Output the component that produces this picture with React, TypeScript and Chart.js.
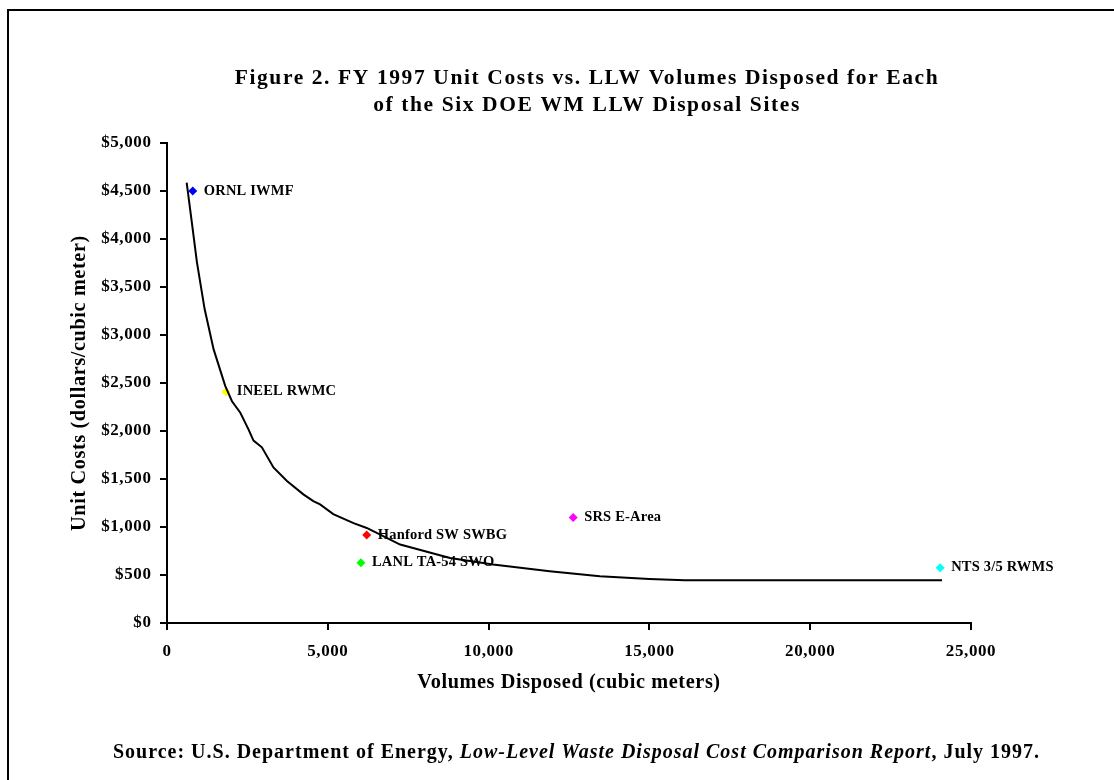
import React, { useEffect, useRef } from 'react';
import { Chart, registerables } from 'chart.js';

Chart.register(...registerables);

const SERIF = '"Liberation Serif", "Times New Roman", Times, serif';

const titleLines = [
  'Figure 2. FY 1997 Unit Costs vs. LLW Volumes Disposed for Each',
  'of the Six DOE WM LLW Disposal Sites',
];
const xAxisTitle = 'Volumes Disposed (cubic meters)';
const yAxisTitle = 'Unit Costs (dollars/cubic meter)';
const sourceParts = [
  { text: 'Source: U.S. Department of Energy, ', italic: false },
  { text: 'Low-Level Waste Disposal Cost Comparison Report', italic: true },
  { text: ', July 1997.', italic: false },
];

const siteNames = ['ORNL IWMF', 'INEEL RWMC', 'Hanford SW SWBG', 'LANL TA-54 SWO', 'SRS E-Area', 'NTS 3/5 RWMS'];
const siteVolumes = [800, 1830, 6210, 6030, 12630, 24040];
const siteCosts = [4500, 2410, 917, 628, 1100, 576];
const siteColors = ['#0000FF', '#FFFF00', '#FF0000', '#00FF00', '#FF00FF', '#00FFFF'];

const curveVolumes = [612, 800, 930, 1170, 1450, 1810, 2020, 2280, 2530, 2690, 2950, 3310, 3730, 4240, 4550, 4760, 5170, 5800, 6210, 7250, 8800, 10140, 11900, 13460, 15000, 16100, 24100];
const curveCosts = [4586, 4100, 3760, 3270, 2850, 2470, 2310, 2190, 2020, 1900, 1830, 1620, 1480, 1340, 1270, 1235, 1135, 1040, 990, 817, 678, 609, 539, 486, 459, 445, 445];

const xTickValues = [0, 5000, 10000, 15000, 20000, 25000];
const yTickValues = [0, 500, 1000, 1500, 2000, 2500, 3000, 3500, 4000, 4500, 5000];

const AXIS_SPACING = '0.6px';

const decorPlugin = {
  id: 'decor',
  beforeDraw(chart: any) {
    chart.ctx.letterSpacing = AXIS_SPACING;
  },
  afterDatasetsDraw(chart: any) {
    const ctx = chart.ctx;
    const meta = chart.getDatasetMeta(1);
    ctx.save();
    ctx.letterSpacing = '0.2px';
    ctx.fillStyle = '#000';
    ctx.font = `bold 14.5px ${SERIF}`;
    ctx.textAlign = 'left';
    ctx.textBaseline = 'middle';
    meta.data.forEach((el: any, i: number) => {
      ctx.fillText(siteNames[i], el.x + 11, el.y);
    });
    ctx.restore();
    ctx.letterSpacing = AXIS_SPACING;
  },
  afterDraw(chart: any) {
    const ctx = chart.ctx;
    ctx.save();
    ctx.fillStyle = '#000';
    ctx.textBaseline = 'middle';
    ctx.textAlign = 'center';
    ctx.letterSpacing = '1.6px';
    ctx.font = `bold 21.5px ${SERIF}`;
    titleLines.forEach((line, i) => ctx.fillText(line, 587, 78.5 + i * 26.7));

    ctx.letterSpacing = '1px';
    ctx.textAlign = 'left';
    const fonts = sourceParts.map((p) => `${p.italic ? 'italic ' : ''}bold 20px ${SERIF}`);
    let total = 0;
    sourceParts.forEach((p, i) => {
      ctx.font = fonts[i];
      total += ctx.measureText(p.text).width;
    });
    let x = 576.5 - total / 2;
    sourceParts.forEach((p, i) => {
      ctx.font = fonts[i];
      ctx.fillText(p.text, x, 753);
      x += ctx.measureText(p.text).width;
    });
    ctx.restore();
    ctx.letterSpacing = '0px';
  },
};

export default function App() {
  const ref = useRef<HTMLCanvasElement | null>(null);

  useEffect(() => {
    if (!ref.current) return;
    const chart = new Chart(ref.current, {
      type: 'scatter',
      data: {
        datasets: [
          {
            label: 'Curve',
            data: curveVolumes.map((v, i) => ({ x: v, y: curveCosts[i] })),
            showLine: true,
            borderColor: '#000',
            borderWidth: 2,
            pointRadius: 0,
            tension: 0,
          },
          {
            label: 'Sites',
            data: siteVolumes.map((v, i) => ({ x: v, y: siteCosts[i] })),
            pointStyle: 'rectRot',
            pointRadius: 4.5,
            backgroundColor: siteColors,
            borderColor: siteColors,
            borderWidth: 0,
          },
        ],
      },
      options: {
        responsive: false,
        animation: false,
        events: [],
        layout: { padding: { left: 0, top: 143, right: 143, bottom: 85 } },
        plugins: {
          legend: { display: false },
          title: { display: false },
          tooltip: { enabled: false },
        },
        scales: {
          x: {
            type: 'linear',
            min: 0,
            max: 25000,
            afterBuildTicks: (s: any) => {
              s.ticks = xTickValues.map((v) => ({ value: v }));
            },
            afterFit: (s: any) => {
              s.height = 72;
            },
            ticks: {
              callback: (v: any) => Number(v).toLocaleString('en-US'),
              font: { family: SERIF, size: 17, weight: 'bold' },
              color: '#000',
              padding: 11.5,
              maxRotation: 0,
              autoSkip: false,
            },
            grid: { drawOnChartArea: false, color: '#000', lineWidth: 2, tickLength: 7 },
            border: { color: '#000', width: 2 },
            title: {
              display: true,
              text: xAxisTitle,
              color: '#000',
              font: { family: SERIF, size: 20.3, weight: 'bold' },
              padding: { top: 0, bottom: 0 },
            },
          },
          y: {
            type: 'linear',
            min: 0,
            max: 5000,
            afterBuildTicks: (s: any) => {
              s.ticks = yTickValues.map((v) => ({ value: v }));
            },
            afterFit: (s: any) => {
              s.width = 167;
            },
            ticks: {
              callback: (v: any) => '$' + Number(v).toLocaleString('en-US'),
              font: { family: SERIF, size: 17, weight: 'bold' },
              color: '#000',
              padding: 8.5,
              autoSkip: false,
            },
            grid: { drawOnChartArea: false, color: '#000', lineWidth: 2, tickLength: 7 },
            border: { color: '#000', width: 2 },
            title: {
              display: true,
              text: yAxisTitle,
              color: '#000',
              font: { family: SERIF, size: 20.3, weight: 'bold' },
              padding: { top: 67.8, bottom: 0 },
            },
          },
        },
      },
      plugins: [decorPlugin],
    } as any);
    return () => chart.destroy();
  }, []);

  return (
    <div style={{ position: 'fixed', left: 0, top: 0, width: 1114, height: 780, background: '#fff', overflow: 'hidden' }}>
      <canvas ref={ref} width={1114} height={780} style={{ display: 'block', width: 1114, height: 780 }} />
      <div
        style={{
          position: 'absolute',
          left: 7,
          top: 9,
          width: 1300,
          height: 1000,
          border: '2px solid #000',
          pointerEvents: 'none',
        }}
      />
    </div>
  );
}
